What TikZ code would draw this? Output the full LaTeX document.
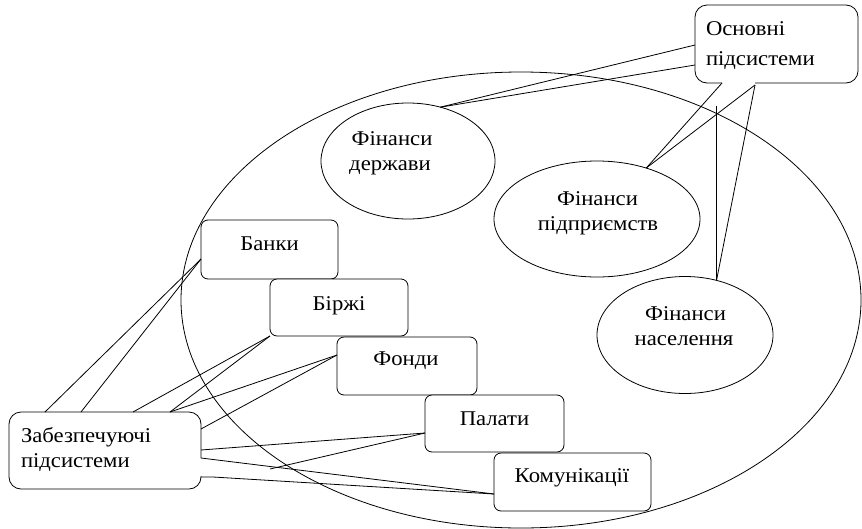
\documentclass[tikz,border=0pt]{standalone}
\usepackage{fontspec}
\setmainfont{Liberation Serif}[FakeStretch=1.08]
\usetikzlibrary{shapes.geometric}
\begin{document}
\begin{tikzpicture}[x=1pt,y=-1pt,line width=0.8pt,
  every node/.style={inner sep=0pt,outer sep=0pt},
  lbl/.style={anchor=base,font=\fontsize{21}{24}\selectfont},
  lbll/.style={anchor=base west,font=\fontsize{21}{24}\selectfont},
  sbox/.style={draw,fill=white,rounded corners=7pt},
  fin/.style={ellipse,draw,fill=white},
]
\useasboundingbox (0,0) rectangle (862,528);
% big ellipse
\node[ellipse,draw,minimum width=680pt,minimum height=456pt] (big) at (521,300) {};

% callout: Основні підсистеми
\node[minimum width=163pt,minimum height=78pt] (osn) at (776.5,44) {};
\draw[rounded corners=12pt] ([xshift=-54.5pt]osn.south) -- (osn.south west) -- (osn.north west)
  -- (osn.north east) -- (osn.south east) -- ([xshift=-21.5pt]osn.south);
\node[lbll] (osn1) at (706,35) {Основні};
\node[lbll] (osn2) at (706,65) {підсистеми};

% callout: Забезпечуючі підсистеми
\node[minimum width=192pt,minimum height=77pt] (zab) at (105,450.5) {};
\draw[rounded corners=12pt] ([yshift=-7.5pt]zab.east) -- (zab.north east) -- (zab.north west)
  -- (zab.south west) -- (zab.south east) -- ([yshift=-25.5pt]zab.east);
\node[lbll] (zab1) at (21,442) {Забезпечуючі};
\node[lbll] (zab2) at (21,467) {підсистеми};

% finance ellipses
\node[fin,minimum width=174pt,minimum height=116pt] (derz) at (408,161) {};
\node[lbl] (derz1) at (392,145) {Фінанси};
\node[lbl] (derz2) at (390,170) {держави};
\node[fin,minimum width=206pt,minimum height=116pt] (pidp) at (597,219) {};
\node[lbl] (pidp1) at (597.5,205) {Фінанси};
\node[lbl] (pidp2) at (598,230) {підприємств};
\node[fin,minimum width=176pt,minimum height=117pt] (nas) at (685,335) {};
\node[lbl] (nas1) at (685.5,320) {Фінанси};
\node[lbl] (nas2) at (684,345) {населення};

% tails of Основні
\coordinate (oa) at ([yshift=-1pt]osn.west);
\coordinate (ob) at ([yshift=-21pt]osn.west);
\coordinate (oc) at ([xshift=-54.5pt]osn.south);
\coordinate (od) at ([xshift=-21.5pt,yshift=-2pt]osn.south);
\coordinate (ov) at (nas.60 |- 0,106);
\draw (oa) -- (derz.59);
\draw (ob) -- (derz.59);
\draw (oc) -- (pidp.46);
\draw (od) -- (pidp.46);
\draw (od) -- (nas.60);
\draw (ov) -- (nas.60);

% boxes
\node[sbox,minimum width=137pt,minimum height=59pt] (banky) at (269.5,249.5) {};
\node[lbl] (banky1) at (269.5,250) {Банки};
\node[sbox,minimum width=138pt,minimum height=57pt] (birzh) at (339,307.5) {};
\node[lbl] (birzh1) at (339,310) {Біржі};
\node[sbox,minimum width=140pt,minimum height=58pt] (fondy) at (407,366) {};
\node[lbl] (fondy1) at (406,365) {Фонди};
\node[sbox,minimum width=139pt,minimum height=57pt] (palat) at (494.5,423.5) {};
\node[lbl] (palat1) at (494.5,425) {Палати};
\node[sbox,minimum width=157pt,minimum height=58pt] (komun) at (572.5,482) {};
\node[lbl] (komun1) at (572,482) {Комунікації};

% tails of Забезпечуючі
\coordinate (za) at ([xshift=-60pt]zab.north);
\coordinate (zb) at ([xshift=-24pt]zab.north);
\coordinate (zc) at ([xshift=28pt]zab.north);
\coordinate (zd) at ([xshift=65pt]zab.north);
\coordinate (ze) at ([yshift=21.5pt]zab.east);
\coordinate (zf) at ([yshift=0.5pt]zab.east);
\coordinate (zg) at ([yshift=-7.5pt]zab.east);
\coordinate (zh) at ([yshift=-26.5pt]zab.east);
\coordinate (zk) at ([xshift=12pt]zh);
\coordinate (zm) at (270,469);
\draw (za) -- ([yshift=-9.5pt]banky.west);
\draw (zb) -- ([yshift=-9.5pt]banky.west);
\draw (zc) -- (birzh.south west);
\draw (zd) -- (birzh.south west);
\draw (zd) -- ([yshift=11pt]fondy.west);
\draw (ze) -- ([yshift=11pt]fondy.west);
\draw (zf) -- ([yshift=-9.5pt]palat.west);
\draw (zm) -- ([yshift=-9.5pt]palat.west);
\draw (zg) -- ([yshift=-12pt]komun.west);
\draw (zh) -- (zk) -- ([yshift=-12pt]komun.west);
\end{tikzpicture}
\end{document}
